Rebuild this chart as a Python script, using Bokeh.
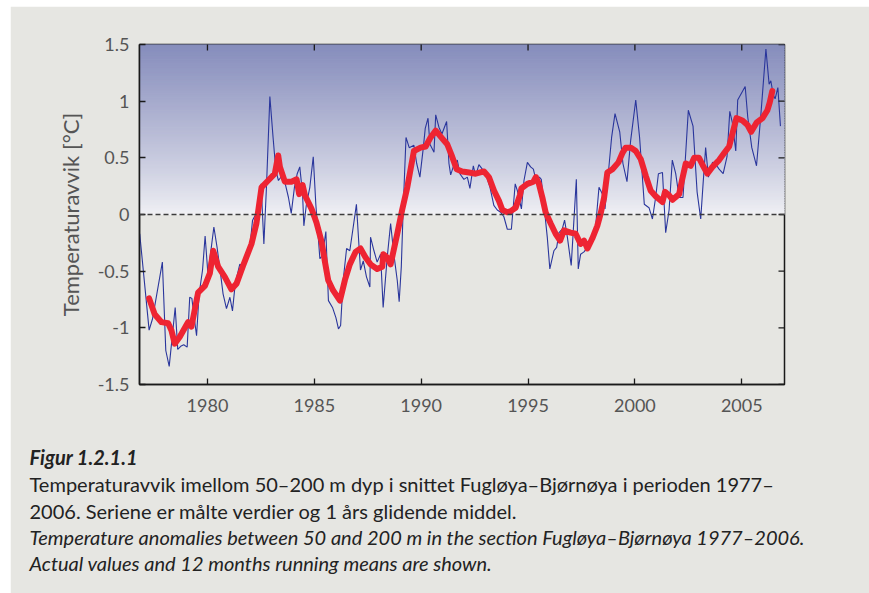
import math
from bokeh.plotting import figure
from bokeh.models import Range1d, FixedTicker, NumeralTickFormatter, Span, Title
from bokeh.embed import file_html
from bokeh.resources import INLINE

# Observed temperature anomalies, 50-200 m, Fugløya-Bjørnøya section (decimal year, °C)
obs_year = [
    1976.83, 1977.27, 1977.43, 1977.89, 1978.05, 1978.21, 1978.49, 1978.61, 1978.77, 1978.89,
    1979.05, 1979.17, 1979.27, 1979.36, 1979.49, 1979.61, 1979.77, 1979.89, 1980.02, 1980.14,
    1980.30, 1980.45, 1980.61, 1980.73, 1980.89, 1981.05, 1981.17, 1981.30, 1981.51, 1981.67,
    1981.83, 1981.95, 1982.11, 1982.23, 1982.33, 1982.51, 1982.64, 1982.76, 1982.92, 1983.07,
    1983.20, 1983.32, 1983.48, 1983.64, 1983.79, 1983.92, 1984.07, 1984.20, 1984.32, 1984.45,
    1984.51, 1984.63, 1984.79, 1984.95, 1985.07, 1985.26, 1985.38, 1985.54, 1985.66, 1985.85,
    1986.01, 1986.13, 1986.23, 1986.35, 1986.51, 1986.66, 1986.82, 1986.97, 1987.16, 1987.29,
    1987.44, 1987.60, 1987.63, 1987.79, 1987.94, 1988.10, 1988.22, 1988.41, 1988.57, 1988.72,
    1988.88, 1988.97, 1989.07, 1989.16, 1989.29, 1989.44, 1989.66, 1989.79, 1989.94, 1990.10,
    1990.19, 1990.32, 1990.41, 1990.60, 1990.68, 1990.83, 1990.97, 1991.19, 1991.30, 1991.38,
    1991.50, 1991.69, 1991.81, 1992.00, 1992.16, 1992.28, 1992.44, 1992.55, 1992.70, 1992.86,
    1993.01, 1993.22, 1993.40, 1993.56, 1993.72, 1993.87, 1994.03, 1994.22, 1994.40, 1994.50,
    1994.69, 1994.81, 1994.97, 1995.12, 1995.25, 1995.37, 1995.53, 1995.62, 1995.90, 1996.02,
    1996.21, 1996.34, 1996.45, 1996.60, 1996.71, 1996.84, 1997.02, 1997.26, 1997.35, 1997.46,
    1997.62, 1997.85, 1998.01, 1998.16, 1998.32, 1998.48, 1998.60, 1998.76, 1998.91, 1999.07,
    1999.29, 1999.44, 1999.63, 1999.80, 2000.04, 2000.22, 2000.44, 2000.66, 2000.82, 2000.97,
    2001.10, 2001.29, 2001.44, 2001.60, 2001.75, 2001.91, 2002.07, 2002.25, 2002.50, 2002.72,
    2002.91, 2003.08, 2003.19, 2003.31, 2003.44, 2003.63, 2003.76, 2003.94, 2004.13, 2004.31,
    2004.44, 2004.56, 2004.72, 2004.81, 2005.16, 2005.28, 2005.47, 2005.69, 2005.89, 2006.13,
    2006.28, 2006.36, 2006.47, 2006.56, 2006.69, 2006.81,
]
obs_anom = [
    -0.17, -1.02, -0.92, -0.42, -1.20, -1.34, -0.82, -1.19, -1.16, -1.15,
    -1.17, -0.73, -0.74, -0.88, -1.07, -0.70, -0.49, -0.19, -0.52, -0.35,
    -0.11, -0.29, -0.52, -0.70, -0.83, -0.73, -0.85, -0.61, -0.44, -0.45,
    -0.41, -0.35, -0.05, -0.01, -0.05, 0.27, -0.26, 0.24, 1.04, 0.68,
    0.39, 0.30, 0.34, 0.27, 0.15, 0.01, 0.24, 0.36, 0.42, 0.18,
    -0.10, 0.09, 0.24, 0.51, 0.09, -0.39, -0.36, -0.15, -0.76, -0.82,
    -0.91, -1.01, -0.98, -0.58, -0.30, -0.32, -0.11, 0.09, -0.49, -0.41,
    -0.55, -0.64, -0.20, -0.32, -0.42, -0.35, -0.82, -0.38, -0.08, -0.35,
    -0.58, -0.77, -0.46, 0.06, 0.68, 0.59, 0.61, 0.45, 0.33, 0.59,
    0.76, 0.85, 0.62, 0.55, 0.88, 0.77, 0.71, 0.82, 0.45, 0.35,
    0.42, 0.48, 0.36, 0.31, 0.33, 0.23, 0.43, 0.34, 0.44, 0.40,
    0.36, 0.24, 0.08, 0.04, 0.02, -0.02, -0.13, -0.13, 0.27, 0.21,
    0.05, 0.30, 0.46, 0.42, 0.40, 0.30, 0.33, 0.31, -0.20, -0.48,
    -0.32, -0.29, -0.16, -0.13, -0.05, -0.20, -0.45, 0.31, -0.48, -0.35,
    -0.33, -0.27, -0.21, -0.11, 0.24, 0.18, 0.05, 0.37, 0.68, 0.89,
    0.73, 0.45, 0.29, 0.65, 1.01, 0.68, 0.09, 0.06, -0.04, 0.15,
    0.36, 0.37, -0.16, 0.04, 0.48, 0.36, 0.15, 0.15, 0.92, 0.78,
    0.20, -0.04, 0.27, 0.59, 0.33, 0.46, 0.45, 0.40, 0.36, 0.51,
    0.91, 0.81, 0.56, 1.01, 1.13, 0.86, 0.59, 0.43, 0.87, 1.46,
    1.15, 1.18, 1.06, 1.02, 1.12, 0.78,
]

# 12-month running mean (decimal year, °C)
mean_year = [
    1977.27, 1977.53, 1977.85, 1978.16, 1978.31, 1978.47, 1978.70, 1979.09, 1979.25, 1979.56,
    1979.88, 1980.11, 1980.27, 1980.50, 1980.81, 1981.12, 1981.36, 1981.67, 1982.06, 1982.29,
    1982.53, 1982.84, 1983.15, 1983.31, 1983.39, 1983.62, 1983.93, 1984.17, 1984.29, 1984.45,
    1984.56, 1984.87, 1985.10, 1985.34, 1985.49, 1985.65, 1985.88, 1986.20, 1986.43, 1986.66,
    1986.93, 1987.16, 1987.40, 1987.63, 1987.94, 1988.18, 1988.23, 1988.41, 1988.57, 1988.88,
    1989.11, 1989.35, 1989.66, 1989.97, 1990.21, 1990.44, 1990.68, 1990.99, 1991.22, 1991.45,
    1991.66, 1991.92, 1992.24, 1992.55, 1992.94, 1993.17, 1993.41, 1993.64, 1993.80, 1994.03,
    1994.19, 1994.42, 1994.62, 1994.69, 1994.97, 1995.25, 1995.37, 1995.51, 1995.67, 1995.82,
    1996.06, 1996.29, 1996.50, 1996.68, 1996.99, 1997.23, 1997.46, 1997.62, 1997.78, 1998.01,
    1998.24, 1998.40, 1998.56, 1998.71, 1998.95, 1999.23, 1999.41, 1999.57, 1999.81, 2000.04,
    2000.27, 2000.51, 2000.74, 2000.98, 2001.29, 2001.41, 2001.60, 2001.76, 2002.07, 2002.19,
    2002.38, 2002.61, 2002.77, 2003.00, 2003.19, 2003.39, 2003.63, 2003.94, 2004.17, 2004.41,
    2004.56, 2004.75, 2005.03, 2005.27, 2005.44, 2005.69, 2005.97, 2006.20, 2006.31, 2006.43,
]
mean_anom = [
    -0.74, -0.88, -0.95, -0.96, -1.02, -1.14, -1.08, -0.95, -0.99, -0.69,
    -0.63, -0.52, -0.32, -0.46, -0.55, -0.66, -0.61, -0.45, -0.26, -0.08,
    0.24, 0.30, 0.36, 0.52, 0.42, 0.29, 0.29, 0.31, 0.18, 0.26,
    0.17, 0.05, -0.07, -0.24, -0.41, -0.58, -0.67, -0.76, -0.58, -0.44,
    -0.33, -0.30, -0.38, -0.44, -0.48, -0.46, -0.35, -0.38, -0.44, -0.17,
    0.04, 0.24, 0.56, 0.59, 0.60, 0.68, 0.74, 0.67, 0.62, 0.51,
    0.40, 0.38, 0.37, 0.36, 0.38, 0.33, 0.21, 0.12, 0.04, 0.02,
    0.03, 0.06, 0.17, 0.23, 0.27, 0.29, 0.33, 0.27, 0.15, 0.02,
    -0.08, -0.17, -0.23, -0.14, -0.16, -0.17, -0.26, -0.23, -0.30, -0.21,
    -0.10, 0.01, 0.15, 0.37, 0.40, 0.46, 0.54, 0.59, 0.59, 0.56,
    0.49, 0.34, 0.21, 0.16, 0.11, 0.20, 0.17, 0.13, 0.18, 0.29,
    0.45, 0.43, 0.50, 0.50, 0.43, 0.36, 0.42, 0.48, 0.54, 0.60,
    0.71, 0.85, 0.83, 0.79, 0.73, 0.81, 0.85, 0.92, 0.99, 1.09,
]

x_ticks = [1980, 1985, 1990, 1995, 2000, 2005]
y_ticks = [-1.5, -1, -0.5, 0, 0.5, 1, 1.5]

caption_title = "Figur 1.2.1.1"
caption_no = [
    "Temperaturavvik imellom 50–200 m dyp i snittet Fugløya–Bjørnøya i perioden 1977–",
    "2006. Seriene er målte verdier og 1 års glidende middel.",
]
caption_en = [
    "Temperature anomalies between 50 and 200 m in the section Fugløya–Bjørnøya 1977–2006.",
    "Actual values and 12 months running means are shown.",
]

X0, X1 = 1976.82, 2007.0
Y0, Y1 = -1.5, 1.5

PANEL_HEX = "#e6e6e2"
FONT = "Lato"
INK = "#1a1a1a"

# page geometry: grey panel starts 10 px in and 6 px down
OFF_L, OFF_T = 10, 6
W, H = 869 - OFF_L, 593 - OFF_T
FR_L, FR_T, FR_W, FR_H = 139, 44, 645, 340


def hexc(rgb):
    return "#%02x%02x%02x" % tuple(int(round(v)) for v in rgb)


def mix(a, b, f):
    return tuple(a[k] + (b[k] - a[k]) * f for k in range(3))


p = figure(width=W, height=H, x_range=Range1d(X0, X1), y_range=Range1d(Y0, Y1),
           output_backend="svg", toolbar_location=None,
           min_border_left=FR_L - OFF_L, min_border_top=FR_T - OFF_T,
           min_border_right=W - (FR_L - OFF_L) - FR_W,
           min_border_bottom=H - (FR_T - OFF_T) - FR_H)
p.margin = (OFF_T, 0, 0, OFF_L)
p.background_fill_color = PANEL_HEX
p.border_fill_color = PANEL_HEX
p.outline_line_color = INK
p.outline_line_width = 1.5
p.grid.visible = False

# blue-to-white shading above the zero line
n_bands = 100
top_rgb = (134, 141, 188)
bot_rgb = (242, 242, 245)
bb, bt, bc = [], [], []
for i in range(n_bands):
    f = (i + 0.5) / n_bands
    bb.append(Y1 * i / n_bands)
    bt.append(Y1 * (i + 1) / n_bands)
    bc.append(hexc(mix(bot_rgb, top_rgb, f ** 0.85)))
p.quad(left=X0 - 1, right=X1 + 1, bottom=bb, top=bt,
       fill_color=bc, line_color=bc, line_width=1)

p.add_layout(Span(location=0, dimension="width", line_color="#3c3c3c",
                  line_width=1.4, line_dash="5 3"))

p.line(obs_year, obs_anom, line_color="#2a369c", line_width=1.1)
p.line(mean_year, mean_anom, line_color="#ee2432", line_width=6,
       line_join="round", line_cap="round")

# mirrored inward ticks on the top and right frame edges (outer half is clipped)
p.scatter(x=x_ticks, y=[Y1] * len(x_ticks), marker="dash", angle=math.pi / 2,
          size=12, line_color=INK, line_width=1.3)
p.scatter(x=[X1] * len(y_ticks), y=y_ticks, marker="dash",
          size=12, line_color=INK, line_width=1.3)

for ax in (p.xaxis[0], p.yaxis[0]):
    ax.axis_line_color = INK
    ax.axis_line_width = 1.5
    ax.major_tick_in = 6
    ax.major_tick_out = 0
    ax.major_tick_line_color = INK
    ax.major_tick_line_width = 1.3
    ax.minor_tick_line_color = None
    ax.major_label_text_font = FONT
    ax.major_label_text_font_size = "18px"
    ax.major_label_text_color = "#555555"

p.xaxis[0].ticker = FixedTicker(ticks=x_ticks)
p.xaxis[0].major_label_standoff = 14
p.yaxis[0].ticker = FixedTicker(ticks=y_ticks)
p.yaxis[0].formatter = NumeralTickFormatter(format="0.[0]")
p.yaxis[0].major_label_standoff = 10
p.yaxis[0].axis_label = "Temperaturavvik [°C]"
p.yaxis[0].axis_label_text_font = FONT
p.yaxis[0].axis_label_text_font_size = "22px"
p.yaxis[0].axis_label_text_font_style = "normal"
p.yaxis[0].axis_label_text_color = "#555555"
p.yaxis[0].axis_label_standoff = 11

# caption block, stacked beneath the x axis and aligned with the panel's left margin
cap_offset = 29 - FR_L
rows = [(caption_title, "bold italic", 28, 1)]
rows += [(caption_no[0], "normal", 0, 1), (caption_no[1], "normal", 0, 0)]
rows += [(t, "italic", 0, 0) for t in caption_en]
for txt, style, top_pad, bot_pad in rows:
    p.add_layout(Title(text=txt, align="left", offset=cap_offset, standoff=0,
                       padding=dict(left=0, right=0, top=top_pad, bottom=bot_pad),
                       text_font=FONT, text_font_size="20px", text_font_style=style,
                       text_color="#222222"), "below")

open("out.html", "w").write(file_html(p, INLINE))
